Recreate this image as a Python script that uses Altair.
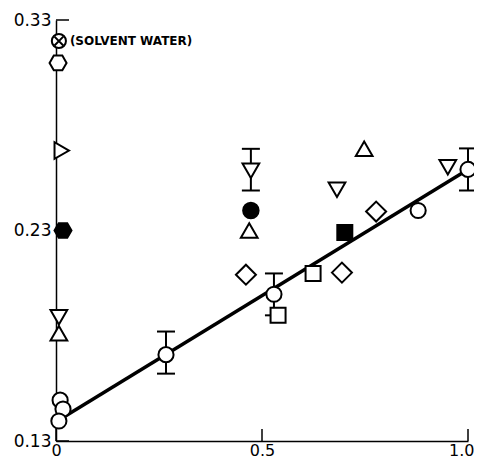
import altair as alt
import pandas as pd

# ---- data ----
open_circle_x = [0.010, 0.017, 0.007, 0.267, 0.529, 0.879, 1.0]
open_circle_y = [0.1494, 0.1452, 0.1395, 0.171, 0.1997, 0.2395, 0.259]

filled_circle_x = [0.473]
filled_circle_y = [0.2395]

tri_up_x = [0.469, 0.748, 0.007]
tri_up_y = [0.230, 0.2688, 0.1812]

tri_down_x = [0.473, 0.682, 0.951, 0.007]
tri_down_y = [0.2584, 0.2494, 0.260, 0.1888]

tri_right_x = [0.014]
tri_right_y = [0.268]

diamond_x = [0.461, 0.694, 0.777]
diamond_y = [0.209, 0.210, 0.239]

open_square_x = [0.539, 0.624]
open_square_y = [0.1897, 0.2096]

filled_square_x = [0.701]
filled_square_y = [0.229]

open_hex_x = [0.005]
open_hex_y = [0.3096]

filled_hex_x = [0.017]
filled_hex_y = [0.230]

solvent_x = [0.007]
solvent_y = [0.320]
solvent_label = ["(SOLVENT WATER)"]

line_x = [0.017, 1.0]
line_y = [0.1412, 0.259]

err_x = [0.267, 0.473, 0.529, 1.0]
err_lo = [0.162, 0.249, 0.1897, 0.249]
err_hi = [0.182, 0.2688, 0.2096, 0.269]

x_ticks = [0, 0.5, 1.0]
y_ticks = [0.13, 0.23, 0.33]

# ---- scales & axes ----
xs = alt.Scale(domain=[0, 1], nice=False, zero=False)
ys = alt.Scale(domain=[0.13, 0.33], nice=False, zero=False)

x_axis = alt.Axis(values=x_ticks, title=None, grid=False, ticks=False,
                  labelExpr="datum.value == 0 ? '0' : format(datum.value, '.1f')",
                  labelAlign={"condition": {"test": "datum.value == 1", "value": "right"},
                              "value": "center"},
                  labelOffset={"condition": {"test": "datum.value == 1", "value": 6},
                               "value": 0},
                  labelPadding=1, labelFontSize=16, labelFont="DejaVu Sans",
                  labelColor="black", domainColor="black", domainWidth=1.5,
                  labelFlush=False)
y_axis = alt.Axis(values=y_ticks, title=None, grid=False, ticks=False,
                  format=".2f", labelPadding=5, labelFontSize=17,
                  labelFont="DejaVu Sans", labelColor="black",
                  domainColor="black", domainWidth=1.5, labelFlush=False)


def X(f="x"):
    return alt.X(f"{f}:Q", scale=xs, axis=x_axis)


def Y(f="y"):
    return alt.Y(f"{f}:Q", scale=ys, axis=y_axis)


def df(xv, yv):
    return pd.DataFrame({"x": xv, "y": yv})


HEX = "M-1,0L-0.5,-0.866L0.5,-0.866L1,0L0.5,0.866L-0.5,0.866Z"
XCROSS = "M-0.62,-0.62L0.62,0.62M-0.62,0.62L0.62,-0.62"

line = alt.Chart(df(line_x, line_y)).mark_line(
    color="black", strokeWidth=3.5).encode(x=X(), y=Y())

err_df = pd.DataFrame({"x": err_x, "lo": err_lo, "hi": err_hi})
err_rule = alt.Chart(err_df).mark_rule(color="black", strokeWidth=2).encode(
    x=X(), y=Y("lo"), y2="hi:Q")
cap_lo = alt.Chart(err_df).mark_tick(
    orient="horizontal", color="black", size=18, thickness=2, opacity=1
).encode(x=X(), y=Y("lo"))
cap_hi = alt.Chart(err_df).mark_tick(
    orient="horizontal", color="black", size=18, thickness=2, opacity=1
).encode(x=X(), y=Y("hi"))


def pts(xv, yv, shape, size, filled=False):
    return alt.Chart(df(xv, yv)).mark_point(
        shape=shape, size=size, filled=True,
        fill="black" if filled else "white",
        stroke="black", strokeWidth=2, opacity=1
    ).encode(x=X(), y=Y())


layers = [
    line, err_rule, cap_lo, cap_hi,
    pts(open_circle_x, open_circle_y, "circle", 230),
    pts(filled_circle_x, filled_circle_y, "circle", 240, True),
    pts(tri_up_x, tri_up_y, "triangle-up", 280),
    pts(tri_down_x, tri_down_y, "triangle-down", 280),
    pts(tri_right_x, tri_right_y, "triangle-right", 280),
    pts(diamond_x, diamond_y, "diamond", 400),
    pts(open_square_x, open_square_y, "square", 225),
    pts(filled_square_x, filled_square_y, "square", 225, True),
    pts(open_hex_x, open_hex_y, HEX, 289),
    pts(filled_hex_x, filled_hex_y, HEX, 289, True),
    pts(solvent_x, solvent_y, "circle", 200),
    alt.Chart(df(solvent_x, solvent_y)).mark_point(
        shape=XCROSS, size=200, stroke="black", strokeWidth=2, opacity=1
    ).encode(x=X(), y=Y()),
    alt.Chart(pd.DataFrame({"x": solvent_x, "y": solvent_y, "t": solvent_label})).mark_text(
        align="left", baseline="middle", dx=11, font="DejaVu Sans",
        fontWeight="bold", fontSize=12, color="black"
    ).encode(x=X(), y=Y(), text="t:N"),
    # inward tick marks
    alt.Chart(pd.DataFrame({"y": y_ticks})).mark_rule(
        color="black", strokeWidth=1.5).encode(
        y=Y(), x=alt.value(0), x2=alt.value(13)),
    alt.Chart(pd.DataFrame({"x": x_ticks})).mark_rule(
        color="black", strokeWidth=1.5).encode(
        x=X(), y=alt.value(421), y2=alt.value(409)),
]

chart = alt.layer(*layers).properties(
    width=412, height=421,
    autosize=alt.AutoSizeParams(type="none"),
    padding={"left": 48, "top": 12, "right": 6, "bottom": 17},
    background="white",
).configure_view(stroke=None)

chart.save("out.html", embed_options={"renderer": "svg", "actions": False})
